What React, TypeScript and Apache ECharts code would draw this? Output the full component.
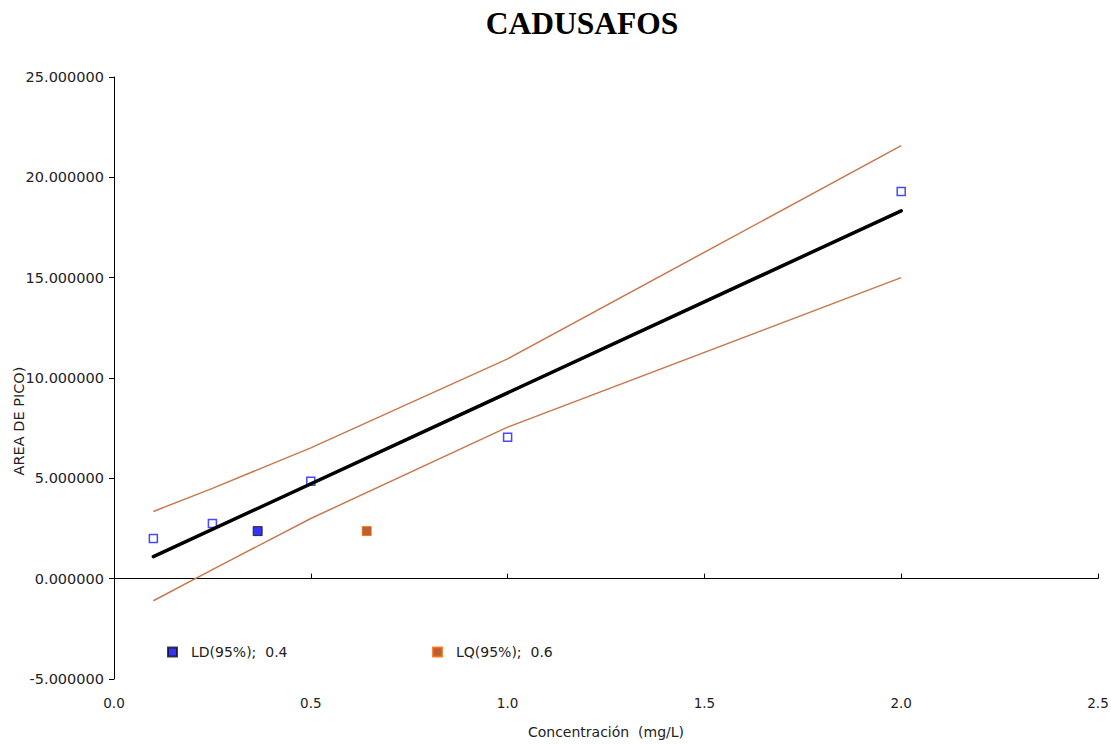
import React, { useEffect, useRef } from "react";
import * as echarts from "echarts";

const title = "CADUSAFOS";
const xName = "Concentración  (mg/L)";
const yName = "AREA DE PICO)";

const dataX = [0.1, 0.25, 0.5, 1.0, 2.0];
const dataY = [2.0, 2.75, 4.85, 7.05, 19.3];

const fitX = [0.1, 2.0];
const fitY = [1.1, 18.33];

const upperX = [0.1, 0.25, 0.5, 1.0, 2.0];
const upperY = [3.35, 4.5, 6.52, 10.95, 21.58];

const lowerX = [0.1, 0.25, 0.5, 1.0, 2.0];
const lowerY = [-1.1, 0.45, 3.0, 7.55, 15.0];

const ldPoint = [0.365, 2.37];
const lqPoint = [0.642, 2.37];

const ldLabel = "LD(95%);  0.4";
const lqLabel = "LQ(95%);  0.6";

const zip = (xs: number[], ys: number[]) => xs.map((x, i) => [x, ys[i]]);

export default function App() {
  const ref = useRef<HTMLDivElement>(null);
  useEffect(() => {
    if (!ref.current) return;
    const chart = echarts.init(ref.current, undefined, { renderer: "svg" });
    const wide = "'DejaVu Sans', Verdana, sans-serif";
    const brown = "#c8784e";
    chart.setOption({
      animation: false,
      backgroundColor: "#ffffff",
      grid: {
        left: 114,
        right: 13,
        top: 77,
        bottom: 65,
        containLabel: false,
        outerBoundsMode: "none",
      },
      legend: [
        {
          data: [{ name: ldLabel, icon: "rect" }],
          left: 162,
          top: 640,
          itemWidth: 9,
          itemHeight: 9,
          textStyle: { fontFamily: wide, fontSize: 14, color: "#222", padding: [0, 0, 0, 9] },
          selectedMode: false,
        },
        {
          data: [{ name: lqLabel, icon: "rect" }],
          left: 427,
          top: 640,
          itemWidth: 9,
          itemHeight: 9,
          textStyle: { fontFamily: wide, fontSize: 14, color: "#222", padding: [0, 0, 0, 9] },
          selectedMode: false,
        },
      ],
      xAxis: [
        {
          type: "value",
          min: 0,
          max: 2.5,
          interval: 0.5,
          position: "bottom",
          axisLine: { show: false, onZero: false },
          axisTick: { show: false },
          splitLine: { show: false },
          axisLabel: {
            margin: 17,
            fontFamily: wide,
            fontSize: 13.5,
            color: "#222",
            formatter: (v: number) => v.toFixed(1),
          },
          name: xName,
          nameLocation: "middle",
          nameGap: 46,
          nameTextStyle: { fontFamily: wide, fontSize: 14, color: "#222" },
        },
        {
          type: "value",
          min: 0,
          max: 2.5,
          interval: 0.5,
          position: "bottom",
          axisLine: { show: true, onZero: true, lineStyle: { color: "#000", width: 1 } },
          axisTick: { show: true, inside: true, length: 5, lineStyle: { color: "#000" } },
          splitLine: { show: false },
          axisLabel: { show: false },
        },
      ],
      yAxis: {
        type: "value",
        min: -5,
        max: 25,
        interval: 5,
        axisLine: { show: true, onZero: false, lineStyle: { color: "#000", width: 1 } },
        axisTick: { show: true, length: 5, lineStyle: { color: "#000" } },
        splitLine: { show: false },
        axisLabel: {
          margin: 10,
          fontFamily: wide,
          fontSize: 14.5,
          color: "#222",
          formatter: (v: number) => v.toFixed(6),
        },
      },
      graphic: [
        {
          type: "text",
          x: 582,
          y: 23,
          style: {
            text: title,
            fontFamily: "'Liberation Serif', 'Times New Roman', serif",
            fontWeight: "bold",
            fontSize: 31.5,
            fill: "#000",
            align: "center",
            verticalAlign: "middle",
          },
        },
        {
          type: "text",
          x: 19,
          y: 421,
          rotation: Math.PI / 2,
          style: {
            text: yName,
            fontFamily: wide,
            fontSize: 14.5,
            fill: "#222",
            align: "center",
            verticalAlign: "middle",
          },
        },
      ],
      series: [
        {
          type: "line",
          data: zip(upperX, upperY),
          xAxisIndex: 1,
          showSymbol: false,
          symbol: "none",
          lineStyle: { color: brown, width: 1.5 },
          silent: true,
        },
        {
          type: "line",
          data: zip(lowerX, lowerY),
          xAxisIndex: 1,
          showSymbol: false,
          symbol: "none",
          lineStyle: { color: brown, width: 1.5 },
          silent: true,
        },
        {
          type: "line",
          data: zip(fitX, fitY),
          xAxisIndex: 1,
          symbol: "none",
          lineStyle: { color: "#000", width: 3.5, cap: "round" },
          silent: true,
        },
        {
          type: "scatter",
          data: zip(dataX, dataY),
          xAxisIndex: 1,
          symbol: "rect",
          symbolSize: 8,
          itemStyle: { color: "#ffffff", borderColor: "#1a1aff", borderWidth: 1.5 },
          silent: true,
        },
        {
          name: ldLabel,
          type: "scatter",
          data: [ldPoint],
          xAxisIndex: 1,
          symbol: "rect",
          symbolSize: 9,
          itemStyle: { color: "#0000ff", borderColor: "#111", borderWidth: 1 },
          silent: true,
        },
        {
          name: lqLabel,
          type: "scatter",
          data: [lqPoint],
          xAxisIndex: 1,
          symbol: "rect",
          symbolSize: 9,
          itemStyle: { color: "#a83800", borderColor: "#ff6600", borderWidth: 1 },
          silent: true,
        },
      ],
    });
    return () => chart.dispose();
  }, []);
  return (
    <div
      ref={ref}
      style={{ position: "absolute", left: 0, top: 0, width: 1111, height: 744 }}
    />
  );
}
